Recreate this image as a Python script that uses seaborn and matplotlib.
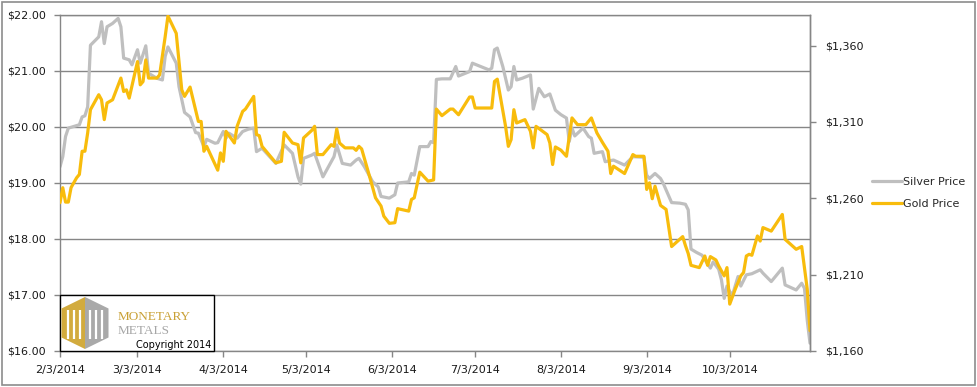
import matplotlib
matplotlib.use('Agg')
import matplotlib.pyplot as plt
import matplotlib.ticker as mticker
from matplotlib.patches import Polygon, Rectangle
import seaborn as sns
import pandas as pd

# --- data ---
silver_days = ['02-03', '02-04', '02-05', '02-06', '02-10', '02-11', '02-12', '02-13', '02-14', '02-17',
               '02-18', '02-19', '02-20', '02-22', '02-24', '02-25', '02-26', '02-28', '03-01', '03-03',
               '03-04', '03-06', '03-07', '03-10', '03-12', '03-13', '03-14', '03-17', '03-18', '03-20',
               '03-22', '03-24', '03-25', '03-27', '03-28', '03-31', '04-01', '04-03', '04-04', '04-05',
               '04-08', '04-10', '04-12', '04-14', '04-15', '04-17', '04-22', '04-25', '04-28', '04-30',
               '05-01', '05-02', '05-05', '05-06', '05-09', '05-11', '05-13', '05-14', '05-16', '05-19',
               '05-21', '05-22', '05-24', '05-27', '05-29', '05-30', '06-02', '06-04', '06-05', '06-09',
               '06-10', '06-11', '06-13', '06-16', '06-17', '06-18', '06-19', '06-21', '06-24', '06-26',
               '06-27', '07-01', '07-02', '07-05', '07-08', '07-09', '07-10', '07-11', '07-13', '07-15',
               '07-16', '07-17', '07-18', '07-20', '07-23', '07-24', '07-26', '07-28', '07-30', '08-01',
               '08-03', '08-05', '08-06', '08-07', '08-08', '08-11', '08-13', '08-14', '08-15', '08-18',
               '08-19', '08-22', '08-26', '08-29', '09-02', '09-03', '09-04', '09-06', '09-08', '09-09',
               '09-12', '09-15', '09-17', '09-18', '09-19', '09-21', '09-23', '09-24', '09-26', '09-27',
               '09-29', '09-30', '10-01', '10-02', '10-03', '10-04', '10-06', '10-07', '10-09', '10-11',
               '10-14', '10-15', '10-18', '10-22', '10-23', '10-27', '10-29', '10-30', '10-31', '11-01']
silver_price = [19.29, 19.47, 19.83, 19.98, 20.04, 20.18, 20.20, 20.36, 21.46, 21.61,
                21.88, 21.49, 21.79, 21.85, 21.94, 21.79, 21.23, 21.20, 21.11, 21.38,
                21.14, 21.45, 20.96, 20.87, 20.84, 21.26, 21.43, 21.14, 20.72, 20.26,
                20.18, 19.90, 19.89, 19.65, 19.78, 19.71, 19.72, 19.92, 19.80, 19.89,
                19.80, 19.92, 19.96, 19.98, 19.56, 19.62, 19.35, 19.68, 19.53, 19.11,
                18.98, 19.44, 19.50, 19.53, 19.11, 19.29, 19.47, 19.68, 19.35, 19.32,
                19.41, 19.44, 19.29, 19.02, 18.93, 18.76, 18.73, 18.79, 19.00, 19.02,
                19.17, 19.14, 19.65, 19.65, 19.74, 19.72, 20.85, 20.86, 20.86, 21.08,
                20.91, 20.99, 21.14, 21.08, 21.02, 21.05, 21.38, 21.41, 21.08, 20.66,
                20.72, 21.08, 20.84, 20.87, 20.93, 20.32, 20.69, 20.54, 20.59, 20.30,
                20.22, 20.16, 19.74, 19.98, 19.84, 19.98, 19.83, 19.80, 19.53, 19.56,
                19.38, 19.41, 19.32, 19.47, 19.46, 19.14, 19.08, 19.17, 19.08, 18.99,
                18.65, 18.64, 18.62, 18.52, 17.82, 17.76, 17.71, 17.63, 17.48, 17.59,
                17.46, 17.27, 16.94, 17.16, 17.06, 17.00, 17.33, 17.16, 17.36, 17.38,
                17.45, 17.39, 17.24, 17.48, 17.18, 17.09, 17.21, 17.12, 16.55, 16.14]

gold_days = ['02-03', '02-04', '02-05', '02-06', '02-07', '02-09', '02-10', '02-11', '02-12', '02-13',
             '02-14', '02-17', '02-18', '02-19', '02-20', '02-22', '02-25', '02-26', '02-27', '02-28',
             '03-03', '03-04', '03-05', '03-06', '03-07', '03-10', '03-11', '03-13', '03-14', '03-17',
             '03-19', '03-20', '03-22', '03-25', '03-26', '03-27', '03-28', '04-01', '04-02', '04-03',
             '04-04', '04-07', '04-08', '04-10', '04-11', '04-14', '04-15', '04-16', '04-17', '04-22',
             '04-24', '04-25', '04-28', '04-30', '05-01', '05-02', '05-05', '05-06', '05-07', '05-09',
             '05-12', '05-13', '05-14', '05-15', '05-17', '05-20', '05-21', '05-22', '05-23', '05-26',
             '05-28', '05-30', '05-31', '06-02', '06-04', '06-05', '06-09', '06-10', '06-11', '06-13',
             '06-16', '06-18', '06-19', '06-21', '06-24', '06-25', '06-27', '07-01', '07-02', '07-03',
             '07-09', '07-10', '07-11', '07-14', '07-15', '07-16', '07-17', '07-18', '07-21', '07-23',
             '07-24', '07-25', '07-29', '07-30', '07-31', '08-01', '08-03', '08-05', '08-07', '08-09',
             '08-12', '08-14', '08-16', '08-18', '08-20', '08-21', '08-22', '08-26', '08-29', '08-30',
             '09-02', '09-03', '09-04', '09-05', '09-06', '09-08', '09-10', '09-12', '09-16', '09-17',
             '09-18', '09-19', '09-22', '09-24', '09-25', '09-26', '09-28', '09-29', '10-01', '10-02',
             '10-03', '10-05', '10-07', '10-08', '10-09', '10-10', '10-11', '10-13', '10-14', '10-15',
             '10-18', '10-22', '10-23', '10-27', '10-29', '10-31', '11-01']
gold_price = [1257.1, 1266.9, 1257.5, 1257.5, 1267.0, 1273.4, 1275.6, 1290.8, 1290.8, 1302.8,
              1318.0, 1327.8, 1324.5, 1311.5, 1322.4, 1324.5, 1338.7, 1329.9, 1331.0, 1325.6,
              1349.5, 1334.3, 1336.4, 1350.6, 1338.7, 1338.7, 1340.8, 1365.8, 1379.3, 1368.0,
              1331.0, 1326.7, 1332.8, 1310.3, 1310.3, 1290.8, 1294.0, 1278.4, 1289.7, 1284.2,
              1303.8, 1296.2, 1307.1, 1316.9, 1318.4, 1326.7, 1301.7, 1301.0, 1294.0, 1283.2,
              1284.2, 1303.2, 1296.2, 1295.1, 1283.2, 1299.5, 1304.5, 1307.1, 1288.6, 1288.6,
              1295.1, 1294.0, 1305.4, 1296.2, 1293.0, 1293.0, 1291.4, 1294.0, 1292.3, 1273.4,
              1260.3, 1254.9, 1248.3, 1243.6, 1244.0, 1253.2, 1251.6, 1259.2, 1260.3, 1277.1,
              1271.2, 1272.0, 1318.4, 1314.1, 1318.4, 1318.4, 1314.7, 1326.3, 1326.3, 1319.1,
              1319.1, 1336.5, 1338.0, 1307.1, 1294.0, 1298.4, 1318.0, 1309.3, 1311.5, 1303.8,
              1293.0, 1307.1, 1301.7, 1296.2, 1282.1, 1293.6, 1291.5, 1287.5, 1312.6, 1308.2,
              1308.2, 1312.6, 1302.8, 1296.6, 1290.8, 1276.2, 1281.0, 1276.2, 1288.6, 1287.5,
              1287.5, 1265.8, 1270.1, 1259.7, 1267.9, 1255.3, 1252.7, 1228.4, 1234.9, 1229.0,
              1223.8, 1216.1, 1214.6, 1222.2, 1216.1, 1221.8, 1219.6, 1215.7, 1209.2, 1214.6,
              1190.7, 1200.5, 1209.2, 1211.4, 1222.2, 1223.3, 1222.7, 1235.3, 1232.0, 1240.8,
              1238.5, 1249.4, 1233.1, 1226.6, 1228.4, 1200.5, 1173.3]

tick_dates = ['2014-02-03', '2014-03-03', '2014-04-03', '2014-05-03', '2014-06-03',
              '2014-07-03', '2014-08-03', '2014-09-03', '2014-10-03']
tick_labels = ['2/3/2014', '3/3/2014', '4/3/2014', '5/3/2014', '6/3/2014',
               '7/3/2014', '8/3/2014', '9/3/2014', '10/3/2014']
silver_ticks = [16, 17, 18, 19, 20, 21, 22]
gold_ticks = [1160, 1210, 1260, 1310, 1360]

SILVER = '#BFBFBF'
GOLD = '#F8BC0C'
GRID = '#868686'
TEXT = '#1a1a1a'

sns.set_style('white')
plt.rcParams['font.family'] = ['DejaVu Sans']

silver = pd.DataFrame({'date': pd.to_datetime(['2014-' + d for d in silver_days]), 'price': silver_price})
gold = pd.DataFrame({'date': pd.to_datetime(['2014-' + d for d in gold_days]), 'price': gold_price})

fig = plt.figure(figsize=(9.78, 3.87), dpi=100)
ax = fig.add_axes([60 / 978, 36 / 387, 750 / 978, 336 / 387])
ax2 = ax.twinx()

sns.lineplot(data=silver, x='date', y='price', ax=ax, color=SILVER, lw=2.3,
             label='Silver Price', legend=False)
sns.lineplot(data=gold, x='date', y='price', ax=ax2, color=GOLD, lw=2.3,
             label='Gold Price', legend=False)

# left axis (silver)
ax.set_ylim(16, 22)
ax.set_yticks(silver_ticks)
ax.yaxis.set_major_formatter(mticker.StrMethodFormatter('${x:,.2f}'))
ax.yaxis.grid(True, color=GRID, lw=1)
ax.xaxis.grid(False)
ax.set_axisbelow(True)

# right axis (gold)
ax2.set_ylim(1160, 1380)
ax2.set_yticks(gold_ticks)
ax2.yaxis.set_major_formatter(mticker.StrMethodFormatter('${x:,.0f}'))
ax2.grid(False)

ax.set_xlim(pd.Timestamp('2014-02-03'), pd.Timestamp('2014-11-01'))
ax.set_xticks(pd.to_datetime(tick_dates))
ax.set_xticklabels(tick_labels)

for a in (ax, ax2):
    a.set_xlabel('')
    a.set_ylabel('')
    for s in a.spines.values():
        s.set_color(GRID)
        s.set_linewidth(1)
for s in ('top', 'left', 'bottom'):
    ax2.spines[s].set_visible(False)

ax.tick_params(axis='x', bottom=True, length=4, width=1, color=GRID, pad=6,
               labelsize=8, labelcolor=TEXT)
ax.tick_params(axis='y', left=True, length=4, width=1, color=GRID, pad=6,
               labelsize=8, labelcolor=TEXT)
ax2.tick_params(axis='y', right=True, length=4, width=1, color=GRID, pad=7,
                labelsize=8, labelcolor=TEXT)

# legend outside on the right
h1, l1 = ax.get_legend_handles_labels()
h2, l2 = ax2.get_legend_handles_labels()
fig.legend(h1 + h2, l1 + l2, loc='center left', bbox_to_anchor=(872 / 978, 1 - 193 / 387),
           frameon=False, fontsize=8, handlelength=2.7, handletextpad=0.1,
           labelspacing=1.1, borderaxespad=0, borderpad=0)

# logo box in the lower left corner of the plot
lax = fig.add_axes([60 / 978, 36 / 387, 154 / 978, 56 / 387])
lax.set_xlim(0, 154)
lax.set_ylim(0, 56)
lax.axis('off')
lax.add_patch(Rectangle((0, 0), 154, 56, facecolor='white', edgecolor='black', lw=1, clip_on=False))
lax.add_patch(Polygon([(25, 54), (1.5, 42.5), (1.5, 13.5), (25, 2)], closed=True,
                      facecolor='#D2AB3E', edgecolor='none'))
lax.add_patch(Polygon([(25, 54), (48.5, 42.5), (48.5, 13.5), (25, 2)], closed=True,
                      facecolor='#A9A9A9', edgecolor='none'))
for bx in (8, 14, 20, 30, 36.5, 42.5):
    lax.plot([bx, bx], [12, 41], color='white', lw=1.6, solid_capstyle='butt')
lax.text(58, 31, 'MONETARY', family='Liberation Serif', fontsize=9.5, color='#C9A035')
lax.text(58, 17.5, 'METALS', family='Liberation Serif', fontsize=9.5, color='#A6A6A6')
lax.text(151, 3, 'Copyright 2014', fontsize=7, color='black', ha='right')

# outer chart border
fig.add_artist(Rectangle((2 / 978, 2 / 387), 973 / 978, 383 / 387, transform=fig.transFigure,
                         fill=False, edgecolor='#8C8C8C', lw=1.2))

fig.savefig('out.png', dpi=100)
